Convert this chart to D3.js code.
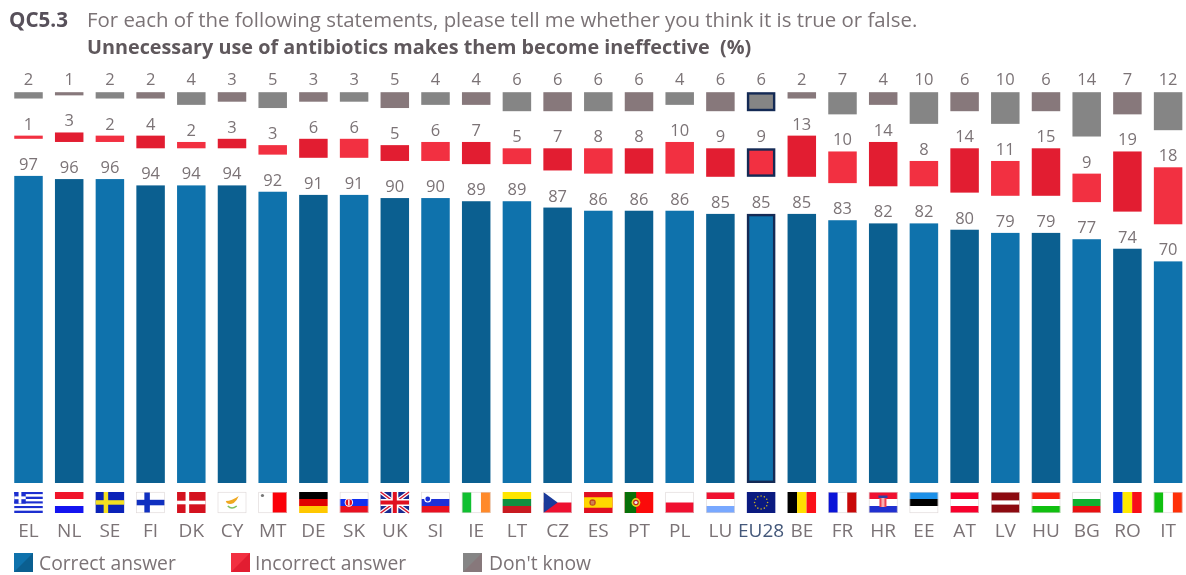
<!DOCTYPE html>
<html><head><meta charset="utf-8">
<script src="https://cdn.jsdelivr.net/npm/d3@7"></script>
<style>
html,body{margin:0;padding:0;background:#fff;overflow:hidden}
svg{display:block;filter:blur(0.45px)}
text{font-family:"Open Sans","Noto Sans",sans-serif}
</style></head><body>
<svg id="c" width="1186" height="575"></svg>
<script>
const categories=["EL","NL","SE","FI","DK","CY","MT","DE","SK","UK","SI","IE","LT","CZ","ES","PT","PL","LU","EU28","BE","FR","HR","EE","AT","LV","HU","BG","RO","IT"];
const correct=[97,96,96,94,94,94,92,91,91,90,90,89,89,87,86,86,86,85,85,85,83,82,82,80,79,79,77,74,70];
const incorrect=[1,3,2,4,2,3,3,6,6,5,6,7,5,7,8,8,10,9,9,13,10,14,8,14,11,15,9,19,18];
const dontKnow=[2,1,2,2,4,3,5,3,3,5,4,4,6,6,6,6,4,6,6,2,7,4,10,6,10,6,14,7,12];
const legendLabels=["Correct answer","Incorrect answer","Don't know"];
const titleCode="QC5.3";
const titleLine1="For each of the following statements, please tell me whether you think it is true or false.";
const titleLine2="Unnecessary use of antibiotics makes them become ineffective  (%)";
const flagStripes={EL:["h","#1c2fd0","#fff","#1c2fd0","#fff","#1c2fd0","#fff","#1c2fd0","#fff","#1c2fd0"],NL:["h","#f0142a","#fff","#1414f0"],SE:["h","#0a22b8"],FI:["h","#fff"],DK:["h","#d4121f"],CY:["h","#fff"],MT:["v","#fff","#fb0008"],DE:["h","#000","#e00000","#ffc800"],SK:["h","#fff","#1030f0","#e81020"],UK:["h","#1a2a90"],SI:["h","#fff","#1c30d8","#e81020"],IE:["v","#10c030","#fff","#ff8a2a"],LT:["h","#ffe600","#109040","#c81a20"],CZ:["h","#fff","#ee1030"],ES:["h","#e01020"],PT:["v","#fb0a0a"],PL:["h","#fff","#f01030"],LU:["h","#f01030","#fff","#78a8ff"],EU28:["h","#0a1a80"],BE:["v","#000","#ffe000","#fb1018"],FR:["v","#0a14d8","#fff","#c80808"],HR:["h","#f01030","#fff","#2030d0"],EE:["h","#1c90e8","#000","#fff"],AT:["h","#f8002c","#fff","#f8002c"],LV:["h","#8c0a10"],HU:["h","#f82010","#fff","#10c010"],BG:["h","#fff","#10b030","#e81010"],RO:["v","#0a28f0","#ffe800","#f81018"],IT:["v","#10c010","#fff","#ff3008"]};
const gapUnits=11.72;

const svg=d3.select("#c");
const ink="#7b7376";
const x=d3.scaleBand().domain(categories).range([8.15,1188.45]).paddingInner(0.3).paddingOuter(0.15);
const y=d3.scaleLinear().domain([0,100+2*gapUnits]).range([483,92.2]);
const rows=categories.map((c,i)=>({c,i,correct:correct[i],gapA:gapUnits,incorrect:incorrect[i],gapB:gapUnits,dontKnow:dontKnow[i]}));
const stack=d3.stack().keys(["correct","gapA","incorrect","gapB","dontKnow"])(rows);
const palette={correct:["#0f72ac","#0b5f90"],incorrect:["#f23041","#e21d31"],dontKnow:["#858585","#87787b"]};
const isEU=c=>c==="EU28";

stack.filter(s=>palette[s.key]).forEach(s=>{
  const g=svg.append("g");
  g.selectAll("rect").data(s).join("rect")
    .attr("x",d=>x(d.data.c)+(isEU(d.data.c)?1.2:0))
    .attr("width",d=>x.bandwidth()-(isEU(d.data.c)?2.4:0))
    .attr("y",d=>y(d[1])+(isEU(d.data.c)?1.2:0))
    .attr("height",d=>y(d[0])-y(d[1])-(isEU(d.data.c)?2.4:0))
    .attr("fill",d=>palette[s.key][d.data.i%2])
    .attr("stroke",d=>isEU(d.data.c)?"#142a55":"none")
    .attr("stroke-width",d=>isEU(d.data.c)?2.4:0);
  g.selectAll("text").data(s).join("text")
    .attr("x",d=>x(d.data.c)+x.bandwidth()/2)
    .attr("y",d=>y(d[1])-(s.key==="dontKnow"?7:6))
    .attr("text-anchor","middle").attr("font-size",16.5).attr("fill",ink)
    .text(d=>d.data[s.key]);
});

// flags
const fy=492,fh=21;
categories.forEach(c=>{
  const fw=x.bandwidth(),fx=x(c);
  const g=svg.append("g").attr("transform",`translate(${fx},${fy})`);
  const spec=flagStripes[c],dir=spec[0],cols=spec.slice(1);
  cols.forEach((col,k)=>{
    if(dir==="h")g.append("rect").attr("y",k*fh/cols.length).attr("width",fw).attr("height",fh/cols.length).attr("fill",col);
    else g.append("rect").attr("x",k*fw/cols.length).attr("width",fw/cols.length).attr("height",fh).attr("fill",col);
  });
  const r=(a,b,w,h,f)=>g.append("rect").attr("x",a).attr("y",b).attr("width",w).attr("height",h).attr("fill",f);
  const dot=(a,b,rad,f)=>g.append("circle").attr("cx",a).attr("cy",b).attr("r",rad).attr("fill",f);
  if(c==="EL"){r(0,0,11.5,11.6,"#1c2fd0");r(4.3,0,2.8,11.6,"#fff");r(0,4.4,11.5,2.8,"#fff");}
  if(c==="SE"){r(8,0,4.5,fh,"#f4e020");r(0,8.2,fw,4.5,"#f4e020");}
  if(c==="FI"){r(8,0,5.5,fh,"#1030c0");r(0,7.8,fw,5.5,"#1030c0");}
  if(c==="DK"){r(8.5,0,3.6,fh,"#fff");r(0,8.7,fw,3.6,"#fff");}
  if(c==="CY"){g.append("path").attr("d","M8 9 Q14 9 21 4 Q19 9 16 11 Q12 13 9 11Z").attr("fill","#f0a820");g.append("path").attr("d","M10 14 Q14 18 19 14").attr("fill","none").attr("stroke","#80c060").attr("stroke-width",1.5);}
  if(c==="MT"){dot(4,3.5,1.6,"#777");}
  if(c==="UK"){
    g.append("path").attr("d",`M0 0L${fw} ${fh}M${fw} 0L0 ${fh}`).attr("stroke","#fff").attr("stroke-width",4);
    g.append("path").attr("d",`M0 0L${fw} ${fh}M${fw} 0L0 ${fh}`).attr("stroke","#d81830").attr("stroke-width",1.5);
    r(fw/2-3.5,0,7,fh,"#fff");r(0,fh/2-3.5,fw,7,"#fff");r(fw/2-2,0,4,fh,"#e01020");r(0,fh/2-2,fw,4,"#e01020");
  }
  if(c==="SK"){dot(9,10.5,4.2,"#fff");dot(9,10.5,3.2,"#e01020");r(8.3,7.5,1.4,6,"#fff");}
  if(c==="SI"){dot(6.5,7,3.5,"#fff");dot(6.5,7,2.4,"#1c30d8");}
  if(c==="LV"){r(0,8.4,fw,4.2,"#fff");}
  if(c==="CZ")g.append("path").attr("d",`M0 0L${fw*0.5} ${fh/2}L0 ${fh}Z`).attr("fill","#1a3a9a");
  if(c==="ES"){r(0,5.25,fw,10.5,"#ffd800");dot(8.5,10.5,3.2,"#c04a20");r(6.8,9,3.4,3.5,"#d08050");}
  if(c==="PT"){r(0,0,fw*0.4,fh,"#087008");dot(11.2,10.5,4.4,"#e8d020");dot(11.2,10.5,2.8,"#c02020");dot(11.2,10.5,1.6,"#eee");}
  if(c==="HR"){r(9.5,3.5,9,2.5,"#3040a0");r(10.5,6,7,9,"#f04050");r(12.5,6,3,9,"#f8b0b0");}
  if(c==="EU28"){d3.range(12).forEach(k=>{const a=k*Math.PI/6;dot(fw/2+6.5*Math.sin(a),fh/2-6.5*Math.cos(a),0.8,"#c8b020");});}
  if(["FI","CY","MT","SK","SI","CZ","PL","LU","FR","HR","EE","BG","IE","IT","AT","LV","HU"].includes(c))
    g.append("rect").attr("x",.25).attr("y",.25).attr("width",fw-.5).attr("height",fh-.5).attr("fill","none").attr("stroke","#ddd6d6").attr("stroke-width",.6);
});

// category axis
const axis=svg.append("g").attr("transform","translate(0,483)").call(d3.axisBottom(x).tickSize(0).tickPadding(41));
axis.select(".domain").remove();
axis.selectAll("text").attr("font-family",'"Open Sans","Noto Sans",sans-serif').attr("font-size",19)
  .attr("fill",d=>isEU(d)?"#44587a":ink);

// titles
svg.append("text").attr("x",9).attr("y",26.5).attr("font-size",20.6).attr("font-weight",700).attr("fill","#57505a").text(titleCode);
svg.append("text").attr("x",87).attr("y",26.5).attr("font-size",20.4).attr("fill",ink).text(titleLine1);
svg.append("text").attr("x",87).attr("y",54).attr("font-size",19.8).attr("font-weight",700).attr("fill","#5f585c").attr("xml:space","preserve").text(titleLine2);

// legend
const legendX=[14,231,463],legendTextX=[39,255,489];
const legendCols=[palette.correct,palette.incorrect,palette.dontKnow];
legendLabels.forEach((t,i)=>{
  const g=svg.append("g").attr("transform",`translate(${legendX[i]},553)`);
  g.append("rect").attr("width",19).attr("height",19).attr("fill",legendCols[i][0]);
  g.append("path").attr("d","M19 0L19 19L0 19Z").attr("fill",legendCols[i][1]);
  svg.append("text").attr("x",legendTextX[i]).attr("y",570).attr("font-size",19.3).attr("fill",ink).text(t);
});
</script></body></html>
